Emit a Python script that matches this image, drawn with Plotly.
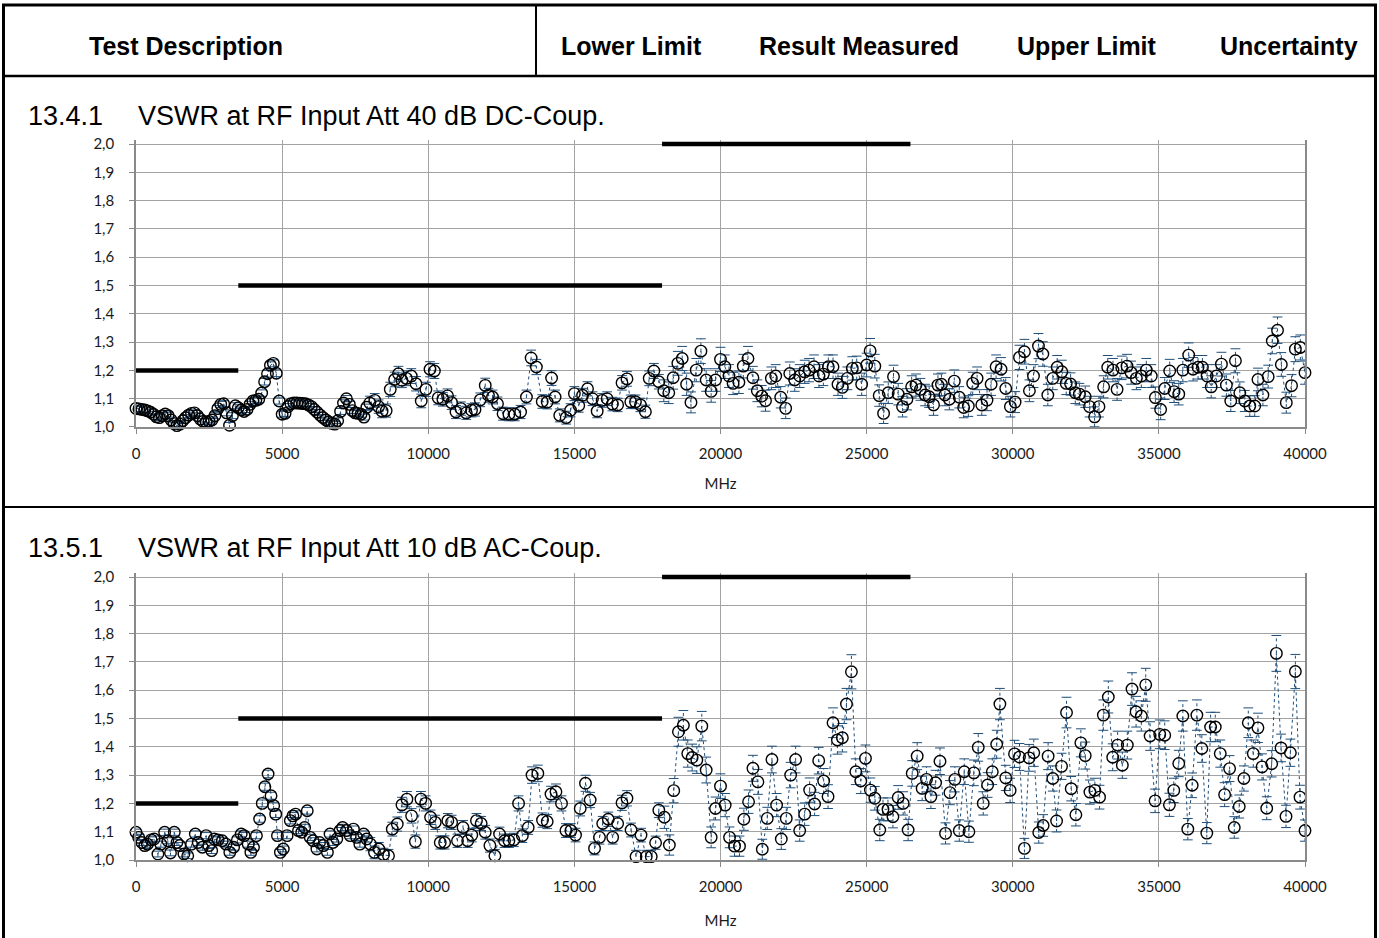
import plotly.graph_objects as go

W, H = 1379, 938

# ---------------- data ----------------
HEADER_LABELS = ["Test Description", "Lower Limit", "Result Measured", "Upper Limit", "Uncertainty"]
PANEL_IDS = ["13.4.1", "13.5.1"]
PANEL_TITLES = ["VSWR at RF Input Att 40 dB DC-Coup.", "VSWR at RF Input Att 10 dB AC-Coup."]
X_TITLE = "MHz"

# upper limit (VSWR) segments, MHz
LIMIT_START_MHZ = [0, 3500, 18000]
LIMIT_STOP_MHZ = [3500, 18000, 26500]
LIMIT_VSWR = [1.2, 1.5, 2.0]

# uncertainty of reflection coefficient per band (band edges in MHz)
UNC_BAND_EDGES_MHZ = [8000, 18000]
GAMMA_UNC_BANDS = [0.005, 0.011, 0.017]

# ---- panel 1: 13.4.1 (40 dB, DC) ----
FREQ_TOP_LF = [0, 100, 200, 300, 400, 500, 600, 700, 800, 900,
               1000, 1100, 1200, 1300, 1400, 1500, 1600, 1700, 1800, 1900,
               2000, 2100, 2200, 2300, 2400, 2500, 2600, 2700, 2800, 2900,
               3000, 3100, 3200, 3300, 3400, 3500, 3600, 3700, 3800, 3900,
               4000, 4100, 4200, 4300, 4400, 4500, 4600, 4700, 4800, 4900,
               5000, 5100, 5200, 5300, 5400, 5500, 5600, 5700, 5800, 5900,
               6000, 6100, 6200, 6300, 6400, 6500, 6600, 6700, 6800, 6900,
               7000, 7100, 7200, 7300, 7400, 7500, 7600, 7700, 7800, 7900, 8000]
VSWR_TOP_LF = [1.066, 1.064, 1.062, 1.060, 1.057, 1.052, 1.045, 1.036, 1.033, 1.040,
               1.046, 1.040, 1.025, 1.012, 1.005, 1.010, 1.022, 1.033, 1.042, 1.048,
               1.050, 1.040, 1.028, 1.020, 1.018, 1.020, 1.025, 1.040, 1.065, 1.080,
               1.082, 1.050, 1.006, 1.040, 1.075, 1.068, 1.060, 1.055, 1.062, 1.080,
               1.092, 1.094, 1.098, 1.120, 1.160, 1.188, 1.218, 1.225, 1.190, 1.092,
               1.045, 1.048, 1.072, 1.082, 1.085, 1.085, 1.084, 1.083, 1.082, 1.078,
               1.072, 1.062, 1.052, 1.042, 1.033, 1.025, 1.018, 1.013, 1.010, 1.022,
               1.055, 1.085, 1.100, 1.080, 1.058, 1.050, 1.048, 1.045, 1.035, 1.070, 1.085]
FREQ_TOP_HF = [8170, 8300, 8420, 8560, 8700, 8850, 8980, 9100, 9250, 9420, 9580, 9760, 9920,
               10060, 10210, 10340, 10500, 10660, 10800, 10950, 11120, 11300, 11480, 11600, 11780, 11950,
               12060, 12200, 12370, 12560, 12760, 12960, 13160, 13360, 13520, 13700, 13900,
               14070, 14220, 14340, 14500, 14720, 14870, 15000, 15150, 15280, 15450, 15620, 15780, 15950,
               16120, 16300, 16480, 16630, 16800, 16930, 17090, 17260, 17430, 17560, 17720, 17890,
               18060, 18230, 18380, 18540, 18690, 18840, 18990, 19170, 19330, 19510, 19680, 19830,
               20000, 20150, 20290, 20430, 20630, 20780, 20940, 21110, 21260, 21410, 21540, 21740, 21890,
               22060, 22230, 22370, 22540, 22710, 22880, 23030, 23200, 23370, 23520, 23690, 23850,
               24020, 24170, 24340, 24510, 24660, 24830, 25000, 25120, 25280, 25430, 25580, 25740, 25920,
               26080, 26230, 26380, 26540, 26690, 26840, 27000, 27140, 27290, 27440, 27560, 27680, 27830,
               28000, 28170, 28320, 28480, 28630, 28780, 28940, 29120, 29260, 29430, 29600, 29760, 29920,
               30080, 30230, 30400, 30570, 30710, 30880, 31030, 31200, 31370, 31520, 31680, 31830, 31980,
               32140, 32280, 32480, 32630, 32800, 32950, 33110, 33250, 33430, 33570, 33730, 33910,
               34050, 34230, 34400, 34570, 34740, 34880, 35060, 35200, 35370, 35520, 35680, 35820,
               36020, 36170, 36340, 36490, 36650, 36790, 36970, 37140, 37310, 37460, 37620, 37770, 37940,
               38110, 38280, 38390, 38560, 38740, 38880, 39060, 39190, 39360, 39540, 39670, 39840, 40000]
VSWR_TOP_HF = [1.094, 1.072, 1.056, 1.058, 1.133, 1.168, 1.188, 1.165, 1.172, 1.180, 1.153, 1.092, 1.133,
               1.204, 1.198, 1.103, 1.098, 1.110, 1.086, 1.053, 1.065, 1.050, 1.059, 1.062, 1.096, 1.147,
               1.112, 1.106, 1.082, 1.047, 1.045, 1.045, 1.053, 1.106, 1.244, 1.212, 1.090,
               1.088, 1.173, 1.106, 1.041, 1.033, 1.059, 1.118, 1.076, 1.112, 1.135, 1.100, 1.056, 1.094,
               1.100, 1.081, 1.078, 1.156, 1.170, 1.089, 1.089, 1.078, 1.054, 1.172, 1.198, 1.160,
               1.128, 1.121, 1.174, 1.225, 1.242, 1.151, 1.087, 1.201, 1.268, 1.166, 1.126, 1.166,
               1.239, 1.213, 1.180, 1.154, 1.158, 1.215, 1.242, 1.174, 1.128, 1.109, 1.093, 1.172, 1.180,
               1.105, 1.066, 1.189, 1.166, 1.180, 1.195, 1.201, 1.213, 1.180, 1.187, 1.213, 1.213,
               1.151, 1.140, 1.172, 1.207, 1.209, 1.151, 1.219, 1.269, 1.215, 1.111, 1.048, 1.121, 1.178,
               1.116, 1.072, 1.098, 1.142, 1.148, 1.133, 1.113, 1.107, 1.078, 1.148, 1.151, 1.113, 1.098,
               1.162, 1.105, 1.069, 1.074, 1.154, 1.172, 1.078, 1.095, 1.151, 1.213, 1.204, 1.136, 1.072,
               1.088, 1.246, 1.266, 1.128, 1.180, 1.286, 1.258, 1.113, 1.172, 1.211, 1.195, 1.154, 1.152,
               1.121, 1.116, 1.107, 1.072, 1.036, 1.072, 1.142, 1.211, 1.201, 1.133, 1.209, 1.215,
               1.192, 1.172, 1.180, 1.201, 1.180, 1.104, 1.062, 1.136, 1.198, 1.125, 1.116, 1.201,
               1.254, 1.204, 1.211, 1.211, 1.180, 1.142, 1.180, 1.222, 1.148, 1.092, 1.234, 1.121, 1.092,
               1.074, 1.074, 1.168, 1.113, 1.178, 1.304, 1.342, 1.221, 1.086, 1.146, 1.275, 1.281, 1.192]

# ---- panel 2: 13.5.1 (10 dB, AC) ----
FREQ_BOT_LF = [0, 90, 200, 300, 390, 520, 620, 750, 850, 980,
               1090, 1180, 1310, 1400, 1500, 1640, 1770, 1900, 2030, 2130,
               2270, 2400, 2490, 2590, 2680, 2810, 2950, 3080, 3210, 3340,
               3470, 3600, 3700, 3840, 3930, 4020, 4120, 4230, 4320, 4410,
               4520, 4620, 4710, 4780, 4840, 4940, 5040, 5170, 5280, 5370,
               5460, 5560, 5670, 5770, 5860, 5960, 6060, 6190, 6280, 6410,
               6550, 6640, 6740, 6870, 6980, 7070, 7200, 7330, 7440, 7550,
               7660, 7790, 7890, 8020, 8160]
VSWR_BOT_LF = [1.098, 1.080, 1.062, 1.051, 1.056, 1.071, 1.074, 1.021, 1.056, 1.098,
               1.068, 1.025, 1.098, 1.062, 1.051, 1.021, 1.015, 1.056, 1.092, 1.062,
               1.045, 1.086, 1.051, 1.033, 1.074, 1.071, 1.068, 1.056, 1.027, 1.045,
               1.071, 1.092, 1.086, 1.056, 1.027, 1.045, 1.086, 1.145, 1.200, 1.259,
               1.304, 1.227, 1.192, 1.162, 1.086, 1.027, 1.039, 1.086, 1.139, 1.156,
               1.162, 1.104, 1.098, 1.115, 1.174, 1.080, 1.068, 1.039, 1.062, 1.051,
               1.027, 1.092, 1.062, 1.074, 1.104, 1.115, 1.104, 1.086, 1.109, 1.080,
               1.056, 1.092, 1.074, 1.056, 1.027]
FREQ_BOT_HF = [8310, 8470, 8640, 8770, 8940, 9100, 9270, 9430, 9560, 9750, 9910,
               10080, 10240, 10410, 10560, 10670, 10800, 11000, 11190, 11350, 11490, 11650, 11810, 11950,
               12110, 12280, 12440, 12610, 12760, 12930, 13090, 13220, 13420, 13550, 13750, 13910,
               14070, 14200, 14370, 14560, 14710, 14880, 15040, 15200, 15380, 15540, 15690, 15860, 15970,
               16160, 16310, 16480, 16630, 16800, 16940, 17110, 17280, 17460, 17630, 17780, 17890,
               18080, 18250, 18400, 18560, 18730, 18880, 19030, 19190, 19360, 19510, 19680, 19830,
               20000, 20160, 20310, 20480, 20650, 20800, 20960, 21110, 21280, 21430, 21600, 21760, 21920,
               22080, 22250, 22400, 22570, 22710, 22880, 23050, 23220, 23360, 23530, 23680, 23850,
               24000, 24170, 24310, 24480, 24630, 24800, 24960, 25130, 25280, 25450, 25560, 25730, 25900,
               26080, 26250, 26420, 26560, 26730, 26900, 27050, 27200, 27360, 27510, 27700, 27850,
               28020, 28170, 28340, 28500, 28670, 28820, 28990, 29140, 29300, 29450, 29560, 29760, 29910,
               30060, 30230, 30400, 30560, 30720, 30890, 31040, 31210, 31370, 31500, 31670, 31840, 32000,
               32160, 32330, 32480, 32640, 32810, 32970, 33100, 33270, 33420, 33590, 33750, 33920,
               34080, 34220, 34400, 34550, 34700, 34870, 35030, 35200, 35360, 35510, 35680, 35820, 35990,
               36140, 36300, 36470, 36640, 36770, 36930, 37100, 37250, 37420, 37580, 37750, 37910,
               38060, 38230, 38390, 38530, 38690, 38860, 39020, 39180, 39350, 39500, 39670, 39830, 40000]
VSWR_BOT_HF = [1.039, 1.019, 1.015, 1.109, 1.127, 1.195, 1.215, 1.156, 1.065, 1.215, 1.200,
               1.151, 1.133, 1.062, 1.062, 1.139, 1.133, 1.068, 1.115, 1.068, 1.088, 1.139, 1.129, 1.098,
               1.051, 1.015, 1.092, 1.068, 1.068, 1.071, 1.200, 1.086, 1.115, 1.300, 1.306, 1.141,
               1.136, 1.233, 1.241, 1.200, 1.104, 1.104, 1.088, 1.182, 1.271, 1.212, 1.041, 1.080, 1.129,
               1.144, 1.080, 1.129, 1.202, 1.218, 1.106, 1.012, 1.088, 1.012, 1.012, 1.061, 1.176,
               1.151, 1.053, 1.245, 1.453, 1.476, 1.376, 1.362, 1.353, 1.473, 1.318, 1.080, 1.182,
               1.261, 1.194, 1.080, 1.049, 1.049, 1.144, 1.206, 1.324, 1.276, 1.038, 1.147, 1.355, 1.194,
               1.074, 1.147, 1.300, 1.355, 1.104, 1.162, 1.247, 1.198, 1.351, 1.279, 1.224, 1.485,
               1.424, 1.432, 1.551, 1.665, 1.312, 1.279, 1.359, 1.247, 1.218, 1.106, 1.179, 1.179, 1.153,
               1.221, 1.200, 1.106, 1.306, 1.367, 1.253, 1.285, 1.224, 1.273, 1.349, 1.094, 1.238,
               1.285, 1.104, 1.312, 1.100, 1.308, 1.398, 1.200, 1.265, 1.312, 1.409, 1.551, 1.290, 1.246,
               1.375, 1.364, 1.041, 1.361, 1.379, 1.097, 1.122, 1.367, 1.288, 1.138, 1.331, 1.521, 1.252,
               1.160, 1.414, 1.369, 1.240, 1.246, 1.222, 1.512, 1.576, 1.363, 1.406, 1.335, 1.406,
               1.604, 1.524, 1.509, 1.619, 1.438, 1.209, 1.444, 1.441, 1.195, 1.246, 1.341, 1.509, 1.109,
               1.264, 1.512, 1.394, 1.095, 1.470, 1.470, 1.376, 1.231, 1.323, 1.115, 1.189, 1.288,
               1.485, 1.376, 1.467, 1.329, 1.183, 1.340, 1.730, 1.396, 1.154, 1.379, 1.666, 1.222, 1.104]

PANELS = [
    (FREQ_TOP_LF + FREQ_TOP_HF, VSWR_TOP_LF + VSWR_TOP_HF),
    (FREQ_BOT_LF + FREQ_BOT_HF, VSWR_BOT_LF + VSWR_BOT_HF),
]

# ---------------- layout geometry (pixels) ----------------
PLOT_LEFT, PLOT_RIGHT = 136, 1305
PANEL_PIX = [(144, 427), (577, 860)]   # pixel rows of VSWR 2.0 and 1.0
Y_MIN, Y_MAX = 1.0, 2.0
Y_PAD = 0.015                            # room so the 2.0 limit line is not clipped

GRID = "#a3a3a3"
AXLINE = "#8a8a8a"
BLUE = "#1f4e79"
TICK_FONT = dict(family="Lato, Calibri, Carlito, sans-serif", size=15, color="#1a1a1a")
HEAD_FONT = "Liberation Sans, Arial, sans-serif"


def px(x):
    return x / W


def py(y):
    return 1 - y / H


def vswr_unc(f, s):
    band = sum(1 for e in UNC_BAND_EDGES_MHZ if f >= e)
    return GAMMA_UNC_BANDS[band] * (s + 1) ** 2 / 2


fig = go.Figure()

for i, (freq, vswr) in enumerate(PANELS):
    n = "" if i == 0 else str(i + 1)
    xa, ya = "x" + n, "y" + n
    unc = [vswr_unc(f, s) for f, s in zip(freq, vswr)]

    # limit line segments
    lx, ly = [], []
    for a, b, v in zip(LIMIT_START_MHZ, LIMIT_STOP_MHZ, LIMIT_VSWR):
        lx += [a, b, None]
        ly += [v, v, None]
    fig.add_trace(go.Scatter(x=lx, y=ly, mode="lines", xaxis=xa, yaxis=ya,
                             line=dict(color="black", width=4.5), hoverinfo="skip"))

    # dotted connecting line
    fig.add_trace(go.Scatter(x=freq, y=vswr, mode="lines", xaxis=xa, yaxis=ya,
                             line=dict(color=BLUE, width=1, dash="dot"), hoverinfo="skip"))

    # error bar stems
    ex, ey = [], []
    for f, s, u in zip(freq, vswr, unc):
        ex += [f, f, None]
        ey += [s - u, s + u, None]
    fig.add_trace(go.Scatter(x=ex, y=ey, mode="lines", xaxis=xa, yaxis=ya,
                             line=dict(color=BLUE, width=1, dash="dot"), hoverinfo="skip"))
    # error bar caps
    fig.add_trace(go.Scatter(x=freq + freq,
                             y=[s - u for s, u in zip(vswr, unc)] + [s + u for s, u in zip(vswr, unc)],
                             mode="markers", xaxis=xa, yaxis=ya,
                             marker=dict(symbol="line-ew", size=7, line=dict(color=BLUE, width=1)),
                             hoverinfo="skip"))

    # measured points
    fig.add_trace(go.Scatter(x=freq, y=vswr, mode="markers", xaxis=xa, yaxis=ya,
                             cliponaxis=False,
                             marker=dict(symbol="circle-open", size=11.5, color="black",
                                         line=dict(width=1.4, color="black"))))

    top_px, bot_px = PANEL_PIX[i]
    pix_per_unit = (bot_px - top_px) / (Y_MAX - Y_MIN)
    dom_top = top_px - Y_PAD * pix_per_unit

    fig.layout["xaxis" + n] = dict(
        domain=[px(PLOT_LEFT), px(PLOT_RIGHT)], range=[0, 40000], anchor=ya,
        tick0=0, dtick=5000, tickformat="d", showgrid=True, gridcolor=GRID, gridwidth=1.2,
        showline=True, linecolor=AXLINE, linewidth=1.6, mirror=False, zeroline=False,
        ticks="outside", ticklen=5, tickcolor=AXLINE, tickwidth=1.2, ticklabelstandoff=7,
        tickfont=TICK_FONT, automargin=False, fixedrange=True,
        title=dict(text=X_TITLE, font=TICK_FONT, standoff=18 if i == 0 else 22))
    fig.layout["yaxis" + n] = dict(
        domain=[py(bot_px), py(dom_top)], range=[Y_MIN, Y_MAX + Y_PAD], anchor=xa,
        tick0=1.0, dtick=0.1, tickformat=".1f", showgrid=True, gridcolor=GRID, gridwidth=1.2,
        showline=True, linecolor=AXLINE, linewidth=1.6, mirror=True, zeroline=False,
        ticks="outside", ticklen=5, tickcolor=AXLINE, tickwidth=1.2, ticklabelstandoff=12,
        tickfont=TICK_FONT, automargin=False, fixedrange=True)

# ---------------- table frame ----------------
def hline(x0, x1, y, w):
    return dict(type="line", xref="paper", yref="paper", x0=px(x0), x1=px(x1), y0=py(y), y1=py(y),
                line=dict(color="black", width=w))


def vline(x, y0, y1, w):
    return dict(type="line", xref="paper", yref="paper", x0=px(x), x1=px(x), y0=py(y0), y1=py(y1),
                line=dict(color="black", width=w))


shapes = [hline(2, 1377, 5, 3), vline(3.5, 5, 938, 3), vline(1375.5, 5, 938, 3),
          hline(2, 1377, 76, 2.5), vline(536, 5, 76, 2), hline(2, 1377, 507, 2)]

annotations = []
HEADER_X = [186, 631, 859, 1087, 1289]
for lab, hx in zip(HEADER_LABELS, HEADER_X):
    annotations.append(dict(text=lab, x=px(hx), y=py(46), xref="paper", yref="paper",
                            xanchor="center", yanchor="middle", showarrow=False,
                            font=dict(family=HEAD_FONT, size=25, color="black", weight="bold")))
TITLE_Y = [116, 548]
for pid, ttl, ty in zip(PANEL_IDS, PANEL_TITLES, TITLE_Y):
    annotations.append(dict(text=pid, x=px(26), y=py(ty), xref="paper", yref="paper",
                            xanchor="left", yanchor="middle", showarrow=False,
                            font=dict(family=HEAD_FONT, size=27, color="black")))
    annotations.append(dict(text=ttl, x=px(136), y=py(ty), xref="paper", yref="paper",
                            xanchor="left", yanchor="middle", showarrow=False,
                            font=dict(family=HEAD_FONT, size=27, color="black")))

fig.update_layout(width=W, height=H, autosize=False, margin=dict(l=0, r=0, t=0, b=0),
                  paper_bgcolor="white", plot_bgcolor="white", showlegend=False,
                  separators=",.", shapes=shapes, annotations=annotations, hovermode=False)

fig.write_html("out.html")
